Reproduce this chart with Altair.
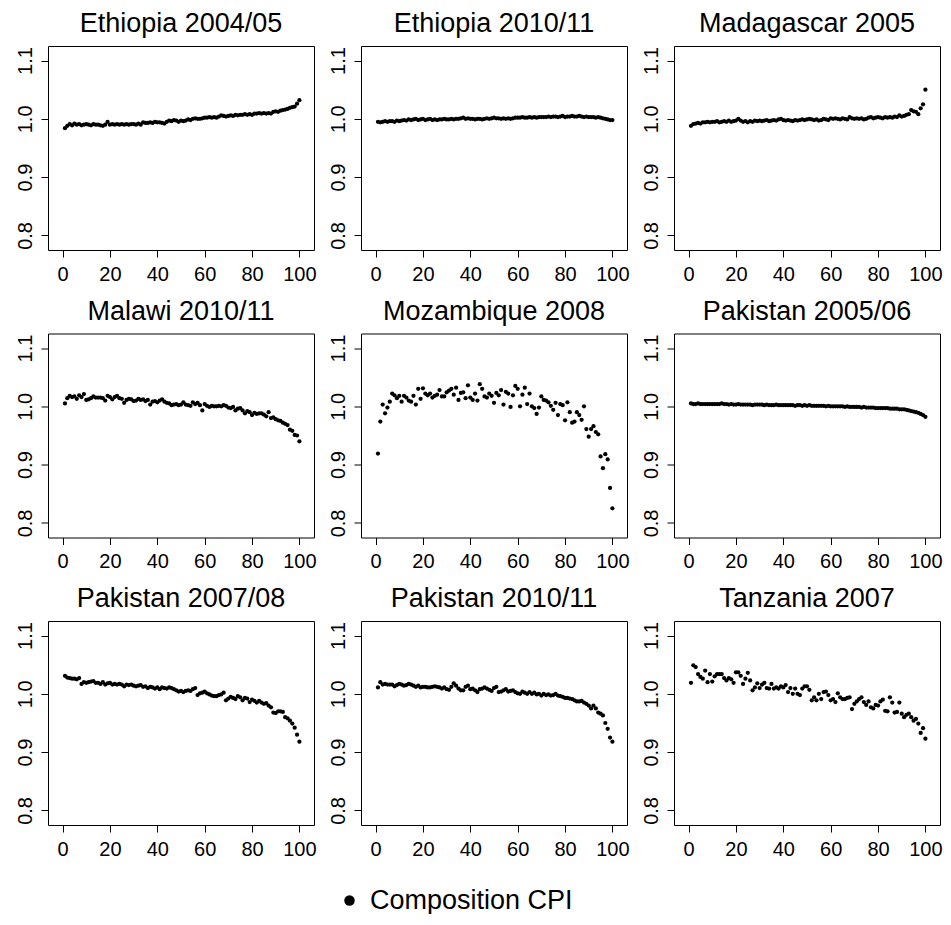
import altair as alt
import pandas as pd

titles = ["Ethiopia 2004/05", "Ethiopia 2010/11", "Madagascar 2005",
          "Malawi 2010/11", "Mozambique 2008", "Pakistan 2005/06",
          "Pakistan 2007/08", "Pakistan 2010/11", "Tanzania 2007"]

percentile = list(range(1, 101))
series_name = "Composition CPI"

ethiopia_0405 = [
    0.984, 0.988, 0.991, 0.989, 0.992, 0.990, 0.991, 0.989, 0.990, 0.991,
    0.990, 0.989, 0.991, 0.990, 0.990, 0.989, 0.988, 0.990, 0.995, 0.990,
    0.991, 0.990, 0.991, 0.990, 0.991, 0.990, 0.991, 0.990, 0.991, 0.991,
    0.990, 0.992, 0.990, 0.994, 0.993, 0.993, 0.994, 0.993, 0.995, 0.994,
    0.994, 0.993, 0.992, 0.995, 0.997, 0.996, 0.998, 0.997, 0.995, 0.997,
    0.996, 0.997, 0.999, 0.998, 1.000, 1.001, 1.000, 1.000, 1.001, 1.002,
    1.002, 1.003, 1.002, 1.003, 1.002, 1.004, 1.006, 1.005, 1.004, 1.005,
    1.006, 1.005, 1.007, 1.006, 1.007, 1.007, 1.008, 1.007, 1.008, 1.007,
    1.009, 1.009, 1.010, 1.009, 1.010, 1.009, 1.010, 1.009, 1.012, 1.013,
    1.012, 1.014, 1.015, 1.016, 1.017, 1.019, 1.020, 1.021, 1.026, 1.032]

ethiopia_1011 = [
    0.995, 0.994, 0.995, 0.996, 0.995, 0.996, 0.996, 0.995, 0.997, 0.996,
    0.997, 0.998, 0.997, 0.999, 0.998, 0.999, 1.000, 0.998, 0.999, 1.000,
    0.998, 0.999, 1.000, 0.998, 0.999, 0.998, 0.999, 0.999, 1.000, 0.999,
    0.999, 1.000, 0.999, 1.000, 1.000, 1.001, 1.002, 1.000, 1.001, 1.000,
    1.000, 0.999, 1.000, 1.000, 0.999, 1.000, 1.001, 1.000, 1.001, 1.002,
    1.001, 1.001, 1.000, 1.001, 1.000, 1.001, 1.000, 1.001, 1.002, 1.002,
    1.002, 1.003, 1.002, 1.002, 1.003, 1.002, 1.003, 1.002, 1.003, 1.003,
    1.003, 1.003, 1.004, 1.003, 1.004, 1.004, 1.003, 1.004, 1.005, 1.003,
    1.004, 1.004, 1.005, 1.004, 1.004, 1.005, 1.004, 1.003, 1.004, 1.003,
    1.003, 1.003, 1.002, 1.003, 1.002, 1.001, 1.000, 0.999, 0.998, 0.998]

madagascar_2005 = [
    0.988, 0.991, 0.992, 0.993, 0.992, 0.994, 0.994, 0.995, 0.994, 0.995,
    0.995, 0.996, 0.994, 0.995, 0.996, 0.995, 0.997, 0.995, 0.996, 0.997,
    1.000, 0.997, 0.995, 0.996, 0.994, 0.996, 0.995, 0.997, 0.996, 0.997,
    0.996, 0.997, 0.998, 0.996, 0.997, 0.998, 0.997, 0.999, 1.000, 0.998,
    0.997, 0.998, 0.997, 0.996, 0.998, 0.997, 0.998, 0.999, 0.998, 0.999,
    1.000, 0.999, 0.998, 0.999, 0.997, 0.998, 1.000, 0.999, 0.998, 1.001,
    1.000, 1.001, 1.000, 0.999, 1.001, 1.000, 0.999, 1.003, 1.001, 1.000,
    1.001, 1.000, 1.001, 0.999, 1.000, 1.002, 1.003, 1.001, 1.002, 1.003,
    1.002, 1.001, 1.003, 1.002, 1.003, 1.002, 1.004, 1.003, 1.006, 1.004,
    1.005, 1.007, 1.008, 1.015, 1.013, 1.012, 1.008, 1.018, 1.025, 1.050]

malawi_1011 = [
    1.005, 1.014, 1.018, 1.016, 1.017, 1.013, 1.019, 1.016, 1.021, 1.011,
    1.012, 1.014, 1.017, 1.015, 1.015, 1.015, 1.014, 1.010, 1.018, 1.016,
    1.012, 1.016, 1.018, 1.014, 1.013, 1.006, 1.011, 1.013, 1.012, 1.009,
    1.010, 1.013, 1.011, 1.012, 1.009, 1.011, 1.003, 1.008, 1.009, 1.007,
    1.010, 1.012, 1.008, 1.006, 1.005, 1.002, 1.003, 1.004, 1.002, 1.003,
    1.007, 1.003, 1.002, 1.001, 1.007, 1.004, 1.006, 1.002, 0.993, 1.004,
    1.001, 0.999, 1.001, 1.000, 1.000, 1.001, 1.000, 1.002, 1.001, 0.998,
    0.997, 0.999, 0.993, 0.996, 0.997, 0.993, 0.988, 0.992, 0.990, 0.985,
    0.989, 0.987, 0.988, 0.988, 0.986, 0.983, 0.990, 0.980, 0.981, 0.978,
    0.976, 0.975, 0.972, 0.970, 0.968, 0.960, 0.958, 0.951, 0.950, 0.940]

mozambique_2008 = [
    0.919, 0.974, 1.003, 0.988, 0.998, 1.008, 1.022, 1.019, 1.014, 1.018,
    1.008, 1.018, 1.015, 1.010, 1.008, 1.018, 1.003, 1.030, 1.013, 1.031,
    1.022, 1.019, 1.022, 1.015, 1.018, 1.020, 1.028, 1.017, 1.017, 1.024,
    1.027, 1.030, 1.020, 1.032, 1.011, 1.023, 1.024, 1.014, 1.036, 1.015,
    1.011, 1.022, 1.010, 1.038, 1.030, 1.017, 1.015, 1.022, 1.018, 1.006,
    1.023, 1.019, 1.028, 1.003, 1.025, 1.022, 0.999, 1.019, 1.035, 1.030,
    1.000, 1.020, 1.032, 1.004, 1.022, 1.000, 0.997, 0.987, 0.998, 1.017,
    1.011, 1.010, 1.007, 1.001, 0.994, 1.006, 0.985, 1.004, 1.002, 0.976,
    1.007, 0.990, 0.972, 0.974, 0.990, 0.985, 0.977, 1.000, 0.961, 0.948,
    0.961, 0.966, 0.956, 0.952, 0.914, 0.894, 0.918, 0.909, 0.860, 0.825]

pakistan_0506 = [
    1.005, 1.004, 1.004, 1.005, 1.004, 1.004, 1.004, 1.004, 1.004, 1.004,
    1.004, 1.004, 1.004, 1.005, 1.004, 1.004, 1.003, 1.004, 1.003, 1.003,
    1.004, 1.003, 1.003, 1.003, 1.003, 1.003, 1.002, 1.003, 1.003, 1.003,
    1.003, 1.002, 1.003, 1.002, 1.002, 1.002, 1.003, 1.002, 1.002, 1.002,
    1.002, 1.002, 1.002, 1.002, 1.001, 1.002, 1.002, 1.001, 1.002, 1.001,
    1.002, 1.001, 1.001, 1.001, 1.001, 1.001, 1.001, 1.000, 1.001, 1.000,
    1.000, 1.000, 1.000, 1.000, 1.000, 0.999, 1.000, 0.999, 0.999, 0.999,
    0.999, 0.999, 0.998, 0.999, 0.998, 0.998, 0.998, 0.998, 0.997, 0.997,
    0.997, 0.997, 0.997, 0.997, 0.996, 0.996, 0.996, 0.996, 0.995, 0.995,
    0.995, 0.994, 0.993, 0.992, 0.991, 0.990, 0.989, 0.987, 0.985, 0.982]

pakistan_0708 = [
    1.031, 1.028, 1.027, 1.026, 1.026, 1.025, 1.027, 1.017, 1.020, 1.019,
    1.020, 1.021, 1.022, 1.019, 1.019, 1.017, 1.020, 1.016, 1.018, 1.019,
    1.016, 1.017, 1.016, 1.017, 1.016, 1.013, 1.016, 1.015, 1.016, 1.014,
    1.013, 1.014, 1.015, 1.012, 1.013, 1.010, 1.012, 1.011, 1.009, 1.011,
    1.008, 1.011, 1.010, 1.009, 1.011, 1.010, 1.008, 1.006, 1.004, 1.005,
    1.003, 1.005, 1.006, 1.005, 1.008, 1.010, 0.998, 1.001, 1.002, 1.004,
    1.001, 0.999, 0.997, 0.996, 0.996, 0.998, 0.999, 1.002, 0.989, 0.992,
    0.995, 0.993, 0.991, 0.996, 0.994, 0.989, 0.993, 0.992, 0.986, 0.990,
    0.988, 0.985, 0.988, 0.985, 0.983, 0.984, 0.980, 0.977, 0.968, 0.967,
    0.970, 0.970, 0.969, 0.960, 0.958, 0.954, 0.949, 0.942, 0.930, 0.918]

pakistan_1011 = [
    1.011, 1.020, 1.016, 1.017, 1.016, 1.016, 1.016, 1.013, 1.015, 1.017,
    1.016, 1.014, 1.015, 1.017, 1.016, 1.014, 1.012, 1.014, 1.011, 1.012,
    1.012, 1.011, 1.011, 1.012, 1.013, 1.012, 1.011, 1.009, 1.011, 1.008,
    1.007, 1.012, 1.018, 1.014, 1.009, 1.006, 1.006, 1.012, 1.014, 1.008,
    1.009, 1.006, 1.003, 1.008, 1.009, 1.011, 1.009, 1.007, 1.005, 1.010,
    1.012, 1.003, 1.004, 1.006, 1.008, 1.004, 1.005, 1.006, 1.003, 1.001,
    1.000, 1.004, 1.002, 1.000, 1.003, 1.000, 1.002, 0.999, 1.000, 0.997,
    1.000, 0.998, 0.999, 0.997, 0.998, 1.000, 0.997, 0.996, 0.995, 0.993,
    0.993, 0.992, 0.991, 0.989, 0.987, 0.987, 0.988, 0.985, 0.983, 0.980,
    0.975, 0.980, 0.975, 0.968, 0.966, 0.963, 0.950, 0.940, 0.925, 0.918]

tanzania_2007 = [
    1.019, 1.049, 1.046, 1.034, 1.029, 1.026, 1.040, 1.020, 1.034, 1.021,
    1.030, 1.034, 1.034, 1.034, 1.027, 1.023, 1.027, 1.025, 1.019, 1.037,
    1.037, 1.031, 1.017, 1.026, 1.036, 1.023, 1.006, 1.011, 1.018, 1.010,
    1.016, 1.019, 1.010, 1.009, 1.017, 1.009, 1.011, 1.009, 1.013, 1.011,
    1.015, 1.003, 1.010, 1.000, 1.009, 1.000, 0.998, 1.009, 1.013, 1.013,
    1.007, 0.989, 0.994, 0.989, 1.000, 0.991, 1.003, 1.004, 0.998, 0.989,
    0.991, 0.986, 1.001, 0.994, 0.991, 0.991, 0.993, 0.994, 0.974, 0.983,
    0.987, 0.991, 0.994, 0.986, 0.981, 0.987, 0.977, 0.975, 0.981, 0.980,
    0.987, 0.990, 0.971, 0.970, 0.994, 0.985, 0.968, 0.969, 0.985, 0.966,
    0.960, 0.964, 0.966, 0.960, 0.954, 0.957, 0.949, 0.933, 0.941, 0.923]

panel_values = [ethiopia_0405, ethiopia_1011, madagascar_2005,
                malawi_1011, mozambique_2008, pakistan_0506,
                pakistan_0708, pakistan_1011, tanzania_2007]

x_ticks = [0, 20, 40, 60, 80, 100]
y_ticks = [0.8, 0.9, 1.0, 1.1]

FONT = "Liberation Sans"
PW, PH = 266, 204


def panel(title, vals):
    df = pd.DataFrame({"pct": percentile, "ratio": vals, "series": series_name})
    return alt.Chart(df).mark_circle(size=18, opacity=1).encode(
        x=alt.X("pct:Q", scale=alt.Scale(domain=[-6.16, 106.16], nice=False, zero=False),
                axis=alt.Axis(values=x_ticks, title=None, format="d", labelFontSize=20,
                              labelFont=FONT, labelColor="black", tickColor="black",
                              tickSize=7, labelPadding=7, domain=False, grid=False,
                              labelFlush=False, labelOverlap=False)),
        y=alt.Y("ratio:Q", scale=alt.Scale(domain=[0.775, 1.125], nice=False, zero=False),
                axis=alt.Axis(values=y_ticks, title=None, format=".1f", labelFontSize=20,
                              labelFont=FONT, labelColor="black", tickColor="black",
                              tickSize=7, labelPadding=6, domain=False, grid=False,
                              labelAngle=270, labelAlign="center", labelBaseline="bottom",
                              labelFlush=False, labelOverlap=False)),
        color=alt.Color("series:N", scale=alt.Scale(range=["black"]),
                        legend=alt.Legend(title=None, orient="none", legendX=288, legendY=841,
                                          labelFontSize=27, labelFont=FONT, labelColor="black",
                                          labelLimit=0,
                                          symbolType="circle", symbolSize=110,
                                          symbolFillColor="black", symbolStrokeWidth=0,
                                          labelOffset=7, padding=0)),
    ).properties(
        width=PW, height=PH,
        title=alt.TitleParams(title, fontSize=27, font=FONT, fontWeight="normal",
                              color="black", anchor="middle", frame="group",
                              baseline="alphabetic", offset=-13),
    )


charts = [panel(t, v) for t, v in zip(titles, panel_values)]
chart = alt.concat(*charts, columns=3, spacing={"row": 83.5, "column": 47},
                   bounds="flush").configure(
    background="white",
    padding={"left": 6, "top": 1, "right": 0, "bottom": 0},
    view=alt.ViewConfig(stroke="black", strokeWidth=1),
)

chart.save("out.html", embed_options={"renderer": "svg", "actions": False})
